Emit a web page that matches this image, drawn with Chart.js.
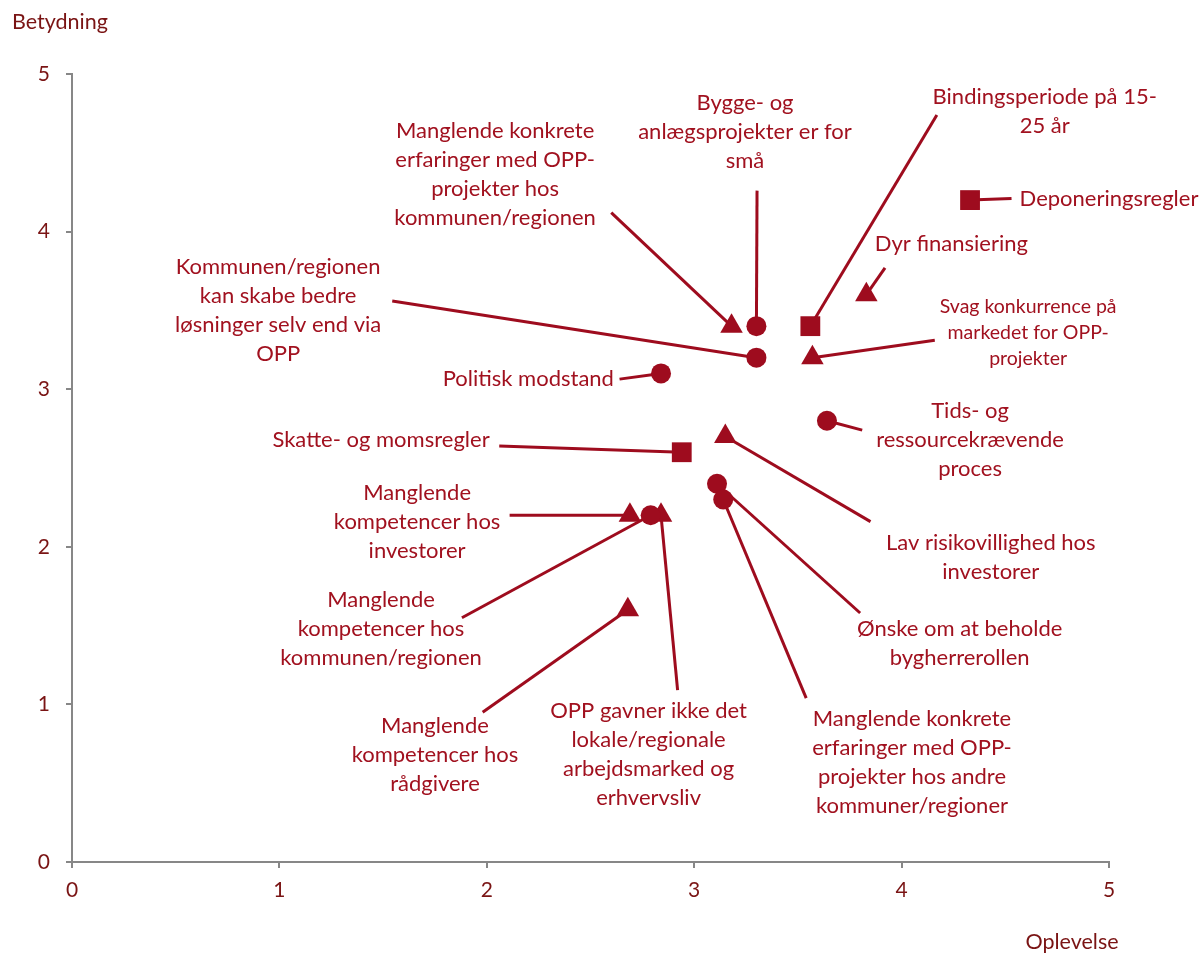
<!DOCTYPE html>
<html>
<head>
<meta charset="utf-8">
<script src="https://cdn.jsdelivr.net/npm/chart.js@4"></script>
<style>
  html, body { margin: 0; padding: 0; background: #fff; }
  #wrap { width: 1203px; height: 953px; }
</style>
</head>
<body>
<div id="wrap"><canvas id="opp"></canvas></div>
<script>
// Barrierer for OPP - oplevelse (x) og betydning (y)
const factors = [
  ['Manglende konkrete', 'erfaringer med OPP-', 'projekter hos', 'kommunen/regionen'],
  ['Bygge- og', 'anlægsprojekter er for', 'små'],
  ['Bindingsperiode på 15-', '25 år'],
  ['Deponeringsregler'],
  ['Dyr finansiering'],
  ['Svag konkurrence på', 'markedet for OPP-', 'projekter'],
  ['Kommunen/regionen', 'kan skabe bedre', 'løsninger selv end via', 'OPP'],
  ['Politisk modstand'],
  ['Tids- og', 'ressourcekrævende', 'proces'],
  ['Skatte- og momsregler'],
  ['Lav risikovillighed hos', 'investorer'],
  ['Ønske om at beholde', 'bygherrerollen'],
  ['Manglende konkrete', 'erfaringer med OPP-', 'projekter hos andre', 'kommuner/regioner'],
  ['Manglende', 'kompetencer hos', 'investorer'],
  ['Manglende', 'kompetencer hos', 'kommunen/regionen'],
  ['OPP gavner ikke det', 'lokale/regionale', 'arbejdsmarked og', 'erhvervsliv'],
  ['Manglende', 'kompetencer hos', 'rådgivere']
];
const oplevelse = [3.18, 3.30, 3.56, 4.33, 3.83, 3.57, 3.30, 2.84, 3.64, 2.94, 3.15, 3.11, 3.14, 2.69, 2.79, 2.84, 2.68];
const betydning = [3.40, 3.40, 3.40, 4.20, 3.60, 3.20, 3.20, 3.10, 2.80, 2.60, 2.70, 2.40, 2.30, 2.20, 2.20, 2.20, 1.60];
const shapes = ['triangle', 'circle', 'rect', 'rect', 'triangle', 'triangle', 'circle', 'circle', 'circle', 'rect',
                'triangle', 'circle', 'circle', 'triangle', 'circle', 'triangle', 'triangle'];
const axisTicks = [0, 1, 2, 3, 4, 5];

// placering af tekstbokse og startpunkt for streger (i akse-enheder)
const callouts = [
  { lx: 2.04, ly: 4.36, ex: 2.60, ey: 4.12 },
  { lx: 3.245, ly: 4.63, ex: 3.303, ey: 4.26 },
  { lx: 4.69, ly: 4.76, ex: 4.17, ey: 4.74 },
  { lx: 5.00, ly: 4.21, ex: 4.53, ey: 4.21 },
  { lx: 4.24, ly: 3.92, ex: 3.92, ey: 3.77 },
  { lx: 4.61, ly: 3.36, ex: 4.16, ey: 3.31, small: true },
  { lx: 0.994, ly: 3.50, ex: 1.544, ey: 3.56 },
  { lx: 2.20, ly: 3.064, ex: 2.64, ey: 3.064 },
  { lx: 4.33, ly: 2.68, ex: 3.81, ey: 2.74 },
  { lx: 1.49, ly: 2.68, ex: 2.06, ey: 2.64 },
  { lx: 4.43, ly: 1.93, ex: 3.85, ey: 2.16 },
  { lx: 4.28, ly: 1.39, ex: 3.80, ey: 1.58 },
  { lx: 4.05, ly: 0.63, ex: 3.54, ey: 1.04 },
  { lx: 1.664, ly: 2.157, ex: 2.11, ey: 2.20 },
  { lx: 1.49, ly: 1.48, ex: 1.88, ey: 1.55 },
  { lx: 2.78, ly: 0.68, ex: 2.92, ey: 1.09 },
  { lx: 1.75, ly: 0.68, ex: 1.98, ey: 0.95 }
];

const markColor = '#9E0C1E';
const textColor = '#A1111F';
const tickColor = '#7A1414';
const axisColor = '#878787';
const FONT = 'Lato, "Open Sans", sans-serif';

function pointsFor(shape) {
  let pts = [];
  for (let i = 0; i < oplevelse.length; i++) {
    if (shapes[i] === shape) pts.push({ x: oplevelse[i], y: betydning[i] });
  }
  return pts;
}

const calloutPlugin = {
  id: 'callouts',
  beforeDatasetsDraw(chart) {
    const c = chart.ctx, xs = chart.scales.x, ys = chart.scales.y;
    c.save();
    c.strokeStyle = markColor;
    c.lineWidth = 3;
    callouts.forEach((o, i) => {
      c.beginPath();
      c.moveTo(xs.getPixelForValue(o.ex), ys.getPixelForValue(o.ey));
      c.lineTo(xs.getPixelForValue(oplevelse[i]), ys.getPixelForValue(betydning[i]));
      c.stroke();
    });
    c.restore();
  },
  afterDraw(chart) {
    const c = chart.ctx, xs = chart.scales.x, ys = chart.scales.y;
    c.save();
    c.fillStyle = textColor;
    c.textAlign = 'center';
    c.textBaseline = 'middle';
    callouts.forEach((o, i) => {
      const lines = factors[i];
      const size = o.small ? 19.5 : 22;
      const lh = o.small ? 26 : 29;
      c.font = size + 'px ' + FONT;
      const cx = xs.getPixelForValue(o.lx);
      const cy = ys.getPixelForValue(o.ly);
      const top = cy - (lines.length - 1) * lh / 2;
      lines.forEach((t, k) => c.fillText(t, cx, top + k * lh));
    });
    // aksetitler
    c.fillStyle = tickColor;
    c.font = '21.5px ' + FONT;
    c.fillText('Betydning', 60, 22);
    c.fillText('Oplevelse', 1072, 942);
    c.restore();
  }
};

const axisBase = {
  type: 'linear',
  min: 0,
  max: 5,
  afterBuildTicks: (scale) => { scale.ticks = axisTicks.map(v => ({ value: v })); },
  grid: { drawOnChartArea: false, drawTicks: true, tickLength: 6, color: axisColor, lineWidth: 2 },
  border: { color: axisColor, width: 2 },
  ticks: { color: tickColor, font: { family: FONT, size: 21 } }
};

new Chart(document.getElementById('opp'), {
  type: 'scatter',
  data: {
    datasets: [
      { label: 'circle', data: pointsFor('circle'), pointStyle: 'circle', pointRadius: 10,
        backgroundColor: markColor, borderColor: markColor, borderWidth: 0 },
      { label: 'rect', data: pointsFor('rect'), pointStyle: 'rect', pointRadius: 14,
        backgroundColor: markColor, borderColor: markColor, borderWidth: 0 },
      { label: 'triangle', data: pointsFor('triangle'), pointStyle: 'triangle', pointRadius: 13,
        backgroundColor: markColor, borderColor: markColor, borderWidth: 0 }
    ]
  },
  options: {
    responsive: true,
    maintainAspectRatio: false,
    animation: false,
    layout: { padding: { top: 74, right: 94, left: 0, bottom: 0 } },
    plugins: { legend: { display: false }, tooltip: { enabled: false } },
    scales: {
      x: Object.assign({}, axisBase, {
        position: 'bottom',
        afterFit: (s) => { s.height = 91; },
        ticks: Object.assign({}, axisBase.ticks, { padding: 10 })
      }),
      y: Object.assign({}, axisBase, {
        position: 'left',
        afterFit: (s) => { s.width = 72; },
        ticks: Object.assign({}, axisBase.ticks, { padding: 16 })
      })
    }
  },
  plugins: [calloutPlugin]
});
</script>
</body>
</html>
